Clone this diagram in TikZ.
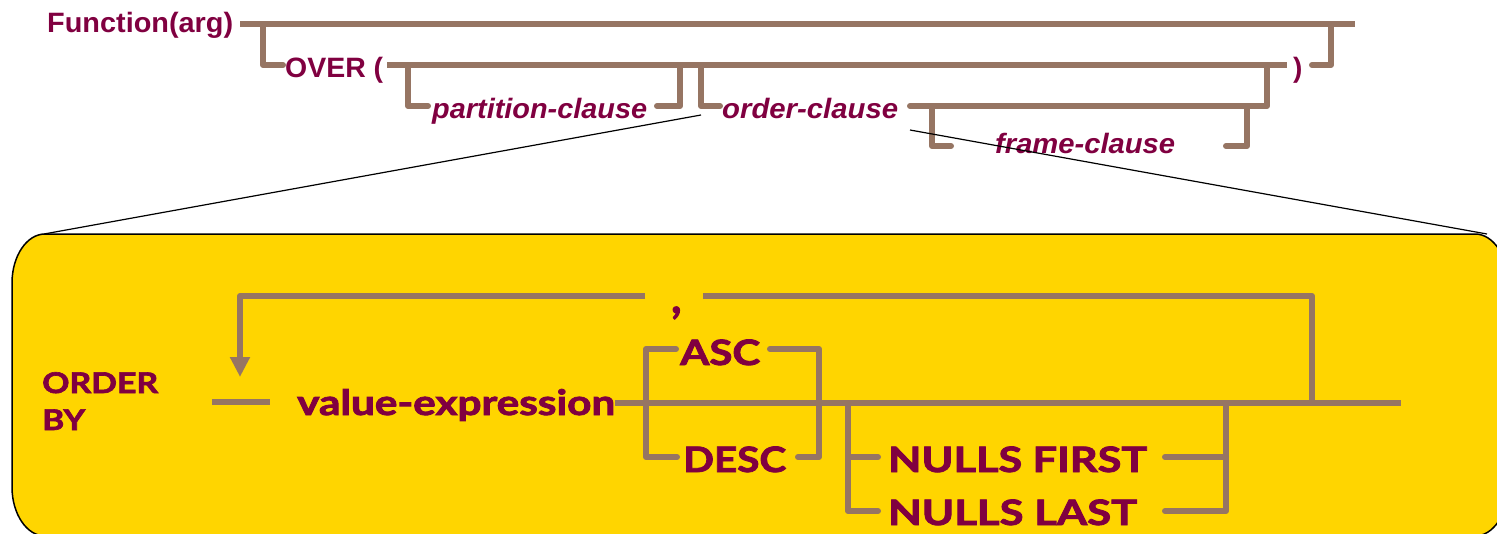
\documentclass[tikz,border=0pt]{standalone}
\usepackage{fontspec}
\usepackage{graphicx}
\setmainfont{Liberation Sans}
\newfontfamily\gillish{Lato}[BoldFeatures={FakeBold=2.2}]
\usetikzlibrary{arrows.meta}
\definecolor{railc}{RGB}{150,117,99}
\definecolor{kw}{RGB}{128,0,64}
\definecolor{panel}{RGB}{255,213,0}
% set a word to a given width, keeping its height
\newcommand{\fitw}[2]{\resizebox{#1pt}{\height}{#2}}

\begin{document}
\begin{tikzpicture}[x=1pt,y=-1pt,
  rail/.style={draw=railc,line width=6pt,line join=round},
  stub/.style={rail,line cap=round},
  toptxt/.style={text=kw,inner sep=0pt,anchor=base west,font=\fontsize{28}{30}\selectfont\bfseries},
  topit/.style={toptxt,font=\fontsize{28}{30}\selectfont\bfseries\itshape},
  kwbig/.style={text=kw,inner sep=0pt,anchor=base west,font=\gillish\fontsize{35}{38}\selectfont\bfseries},
  kwsmall/.style={kwbig,font=\gillish\fontsize{28.5}{30}\selectfont\bfseries},
  zoomline/.style={draw=black,line width=1.2pt},
]
\useasboundingbox (0,0) rectangle (1497,533);

% detail panel
\path[fill=panel,draw=black,line width=1.5pt]
  (45,234) -- (1475,234) .. controls (1493.2,234) and (1508,256) .. (1508,283)
  -- (1508,487) .. controls (1508,514) and (1493.2,536) .. (1475,536)
  -- (45,536) .. controls (26.8,536) and (12,514) .. (12,487)
  -- (12,283) .. controls (12,256) and (26.8,234) .. (45,234) -- cycle;

% ---- junction points of the rails ----
\foreach \n/\px/\py in {
  a0/240/24, a1/1355/24, a2/263/24, a3/263/65, a4/283/65,
  a5/1312/65, a6/1331/65, a7/1331/24,
  b0/387/65, b1/1287/65,
  b2/408/65, b3/408/106, b4/428/106,
  b5/657/106, b6/680/106, b7/680/65,
  b8/701/65, b9/701/106, b10/720/106,
  c0/910/106, c1/1267/106, c2/1267/65,
  c3/932/106, c4/932/146, c5/951/146,
  c6/1226/146, c7/1247/146, c8/1247/106,
  z0/701/115, z1/44/234, z2/910/130, z3/1487/234,
  d0/212/402, d1/270/402,
  m0/615/403, m1/1401/403,
  l0/645/296, l1/240/296, l2/240/377,
  l3/703/296, l4/1312/296, l5/1312/403,
  s0/676/349, s1/646/349, s2/646/457, s3/677/457,
  s4/770/349, s5/819/349, s6/819/457, s7/798/457,
  n0/848/403, n1/848/511, n2/878/511, n3/848/457, n4/878/457,
  n5/1165/457, n6/1226/457, n7/1165/511, n8/1226/511, n9/1226/403}
  \coordinate (\n) at (\px,\py);

% ---- labels ----
\node[toptxt] (fn) at (47,32) {\fitw{186}{Function(arg)}};
\node[toptxt] (over) at (285,77) {\fitw{98}{OVER (}};
\node[toptxt] (close) at (1293,77) {)};
\node[topit] (part) at (432,118) {\fitw{215}{partition-clause}};
\node[topit] (ord) at (722,118) {\fitw{176}{order-clause}};
\node[topit] (frame) at (995,153) {\fitw{180}{frame-clause}};

\node[kwsmall] (orderkw) at (42,393) {\fitw{116}{ORDER}};
\node[kwsmall] (bykw) at (42,430) {\fitw{43}{BY}};
\node[kwbig] (vexpr) at (297,415) {\fitw{318}{value-expression}};
\node[kwbig] (asc) at (680,365) {\fitw{80}{ASC}};
\node[kwbig] (desc) at (683,472) {\fitw{103}{DESC}};
\node[kwbig] (nf) at (888,472) {\fitw{259}{NULLS FIRST}};
\node[kwbig] (nl) at (888,525) {\fitw{249}{NULLS LAST}};
\node[kwbig,font=\gillish\fontsize{44}{46}\selectfont\bfseries] (comma) at (671,313) {,};

% ---- top syntax rails ----
\draw[rail] (a0) -- (a1);
\draw[stub] (a2) -- (a3) -- (a4);
\draw[stub] (a5) -- (a6) -- (a7);
\draw[rail] (b0) -- (b1);
\draw[stub] (b2) -- (b3) -- (b4);
\draw[stub] (b5) -- (b6) -- (b7);
\draw[stub] (b8) -- (b9) -- (b10);
\draw[stub] (c0) -- (c1) -- (c2);
\draw[stub] (c3) -- (c4) -- (c5);
\draw[stub] (c6) -- (c7) -- (c8);

% ---- zoom guides ----
\draw[zoomline] (z0) -- (z1);
\draw[zoomline] (z2) -- (z3);

% ---- ORDER BY rails ----
\draw[rail] (d0) -- (d1);
\draw[rail] (m0) -- (m1);
\draw[rail,-{Triangle[width=19pt,length=20pt]}] (l0) -- (l1) -- (l2);
\draw[rail] (l3) -- (l4) -- (l5);
\draw[stub] (s0) -- (s1) -- (s2) -- (s3);
\draw[stub] (s4) -- (s5) -- (s6) -- (s7);
\draw[stub] (n0) -- (n1) -- (n2);
\draw[stub] (n3) -- (n4);
\draw[stub] (n5) -- (n6);
\draw[stub] (n7) -- (n8) -- (n9);
\end{tikzpicture}
\end{document}
